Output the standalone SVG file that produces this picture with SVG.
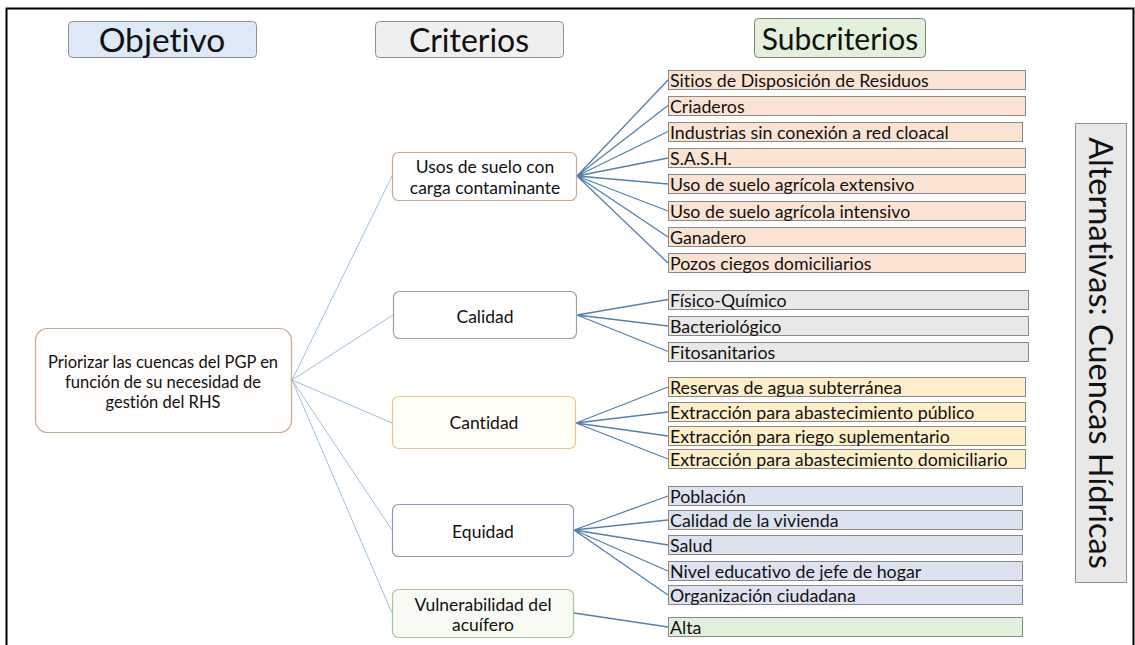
<svg xmlns="http://www.w3.org/2000/svg" width="1135" height="645" viewBox="0 0 1135 645">
<style>
text{font-family:Lato,"Open Sans","Liberation Sans",sans-serif;fill:#111;font-variant-ligatures:none;font-feature-settings:"liga" 0,"dlig" 0}
.hdr{font-size:30px;text-anchor:middle;dominant-baseline:central}
.crit{font-size:17.5px;text-anchor:middle;dominant-baseline:central}
.obj{font-size:16.5px}
.sub{font-size:17.8px;dominant-baseline:central}
.sb{stroke:#8a8a8a;stroke-width:1}
.c1{stroke:#9cc0e0;stroke-width:1;fill:none}
.c2{stroke:#5580aa;stroke-width:1.3;fill:none}
</style>
<rect width="1135" height="645" fill="#fff"/>
<path d="M6.5 645 V8.5 H1133.5 V645" fill="none" stroke="#000" stroke-width="2"/>
<g id="hdr-objetivo"><rect x="68.5" y="21.5" width="188" height="36" rx="4" fill="#dde9f6" stroke="#909090"/><text class="hdr" x="162" y="39" style="font-size:33.5px">Objetivo</text></g>
<g id="hdr-criterios"><rect x="375.5" y="21.5" width="188" height="36" rx="4" fill="#efefef" stroke="#909090"/><text class="hdr" x="469" y="39" style="font-size:32px">Criterios</text></g>
<g id="hdr-subcriterios"><rect x="754.5" y="18.5" width="171" height="39" rx="4" fill="#e3f0db" stroke="#808080"/><text class="hdr" x="840" y="38">Subcriterios</text></g>
<g id="connectors">
<path class="c1" d="M292 380 L392 176 M292 380 L393 315 M292 380 L392 423 M292 380 L392 530 M292 380 L392 613"/>
<path class="c2" d="M577 176 L668 80 M577 176 L668 105.5 M577 176 L668 131.5 M577 176 L668 158 M577 176 L668 184 M577 176 L668 211 M577 176 L668 237 M577 176 L668 263"/>
<path class="c2" d="M577 315 L668 299.5 M577 315 L668 326 M577 315 L668 351.5"/>
<path class="c2" d="M576 423 L668 387 M576 423 L668 412 M576 423 L668 436 M576 423 L668 459"/>
<path class="c2" d="M574 530 L668 496 M574 530 L668 520 M574 530 L668 545 M574 530 L668 571 M574 530 L668 595"/>
<path class="c2" d="M574 613 L668 627"/>
</g>
<g id="objetivo"><rect x="35.5" y="328.5" width="256" height="104" rx="12" fill="#fffdfb" stroke="#c9a890" stroke-width="1.2"/>
<text class="crit obj" x="163" y="362">Priorizar las cuencas del PGP en</text><text class="crit obj" x="163" y="382">función de su necesidad de</text><text class="crit obj" x="163" y="402">gestión del RHS</text></g>
<g id="usos"><rect x="392.5" y="152.5" width="184" height="48" rx="6" fill="#fff" stroke="#d0a890" stroke-width="1.2"/><text class="crit" x="485" y="166">Usos de suelo con</text><text class="crit" x="485" y="187">carga contaminante</text></g>
<g id="calidad"><rect x="393.5" y="291.5" width="183" height="47" rx="6" fill="#fff" stroke="#a0a0a0" stroke-width="1.2"/><text class="crit" x="485" y="316">Calidad</text></g>
<g id="cantidad"><rect x="392.5" y="396.5" width="183" height="52" rx="6" fill="#fffef6" stroke="#e5cc88" stroke-width="1.2"/><text class="crit" x="484" y="422">Cantidad</text></g>
<g id="equidad"><rect x="392.5" y="504.5" width="181" height="52" rx="6" fill="#fff" stroke="#8c9cc0" stroke-width="1.2"/><text class="crit" x="483" y="531">Equidad</text></g>
<g id="vulnerabilidad"><rect x="392.5" y="589.5" width="181" height="48" rx="6" fill="#f7fbf3" stroke="#a8c898" stroke-width="1.2"/><text class="crit" x="483" y="604">Vulnerabilidad del</text><text class="crit" x="483" y="624">acuífero</text></g>
<g id="s-usos" fill="#fbe3d4">
<g id="s1"><rect class="sb" x="668.5" y="70.5" width="357" height="19"/><text class="sub" x="670" y="80">Sitios de Disposición de Residuos</text></g>
<g id="s2"><rect class="sb" x="668.5" y="96.5" width="357" height="19"/><text class="sub" x="670" y="106">Criaderos</text></g>
<g id="s3"><rect class="sb" x="668.5" y="122.5" width="354" height="19"/><text class="sub" x="670" y="132">Industrias sin conexión a red cloacal</text></g>
<g id="s4"><rect class="sb" x="668.5" y="148.5" width="357" height="19"/><text class="sub" x="670" y="158">S.A.S.H.</text></g>
<g id="s5"><rect class="sb" x="668.5" y="174.5" width="357" height="19"/><text class="sub" x="670" y="184">Uso de suelo agrícola extensivo</text></g>
<g id="s6"><rect class="sb" x="668.5" y="201.5" width="357" height="19"/><text class="sub" x="670" y="211">Uso de suelo agrícola intensivo</text></g>
<g id="s7"><rect class="sb" x="668.5" y="227.5" width="357" height="19"/><text class="sub" x="670" y="237">Ganadero</text></g>
<g id="s8"><rect class="sb" x="668.5" y="253.5" width="357" height="19"/><text class="sub" x="670" y="263">Pozos ciegos domiciliarios</text></g>
</g>
<g id="s-calidad" fill="#e8e8e8">
<g id="s9"><rect class="sb" x="668.5" y="290.5" width="360" height="19"/><text class="sub" x="670" y="300">Físico-Químico</text></g>
<g id="s10"><rect class="sb" x="668.5" y="316.5" width="360" height="19"/><text class="sub" x="670" y="326">Bacteriológico</text></g>
<g id="s11"><rect class="sb" x="668.5" y="342.5" width="360" height="19"/><text class="sub" x="670" y="352">Fitosanitarios</text></g>
</g>
<g id="s-cantidad" fill="#fdefc9">
<g id="s12"><rect class="sb" x="668.5" y="377.5" width="357" height="19"/><text class="sub" x="670" y="387">Reservas de agua subterránea</text></g>
<g id="s13"><rect class="sb" x="668.5" y="402.5" width="357" height="19"/><text class="sub" x="670" y="412">Extracción para abastecimiento público</text></g>
<g id="s14"><rect class="sb" x="668.5" y="426.5" width="357" height="19"/><text class="sub" x="670" y="436">Extracción para riego suplementario</text></g>
<g id="s15"><rect class="sb" x="668.5" y="449.5" width="357" height="19"/><text class="sub" x="670" y="459">Extracción para abastecimiento domiciliario</text></g>
</g>
<g id="s-equidad" fill="#dde2f1">
<g id="s16"><rect class="sb" x="668.5" y="486.5" width="354" height="19"/><text class="sub" x="670" y="496">Población</text></g>
<g id="s17"><rect class="sb" x="668.5" y="510.5" width="354" height="19"/><text class="sub" x="670" y="520">Calidad de la vivienda</text></g>
<g id="s18"><rect class="sb" x="668.5" y="535.5" width="354" height="19"/><text class="sub" x="670" y="545">Salud</text></g>
<g id="s19"><rect class="sb" x="668.5" y="561.5" width="354" height="19"/><text class="sub" x="670" y="571">Nivel educativo de jefe de hogar</text></g>
<g id="s20"><rect class="sb" x="668.5" y="585.5" width="354" height="19"/><text class="sub" x="670" y="595">Organización ciudadana</text></g>
</g>
<g id="s-vuln" fill="#e3f0db">
<g id="s21"><rect class="sb" x="668.5" y="617.5" width="354" height="19"/><text class="sub" x="670" y="627">Alta</text></g>
</g>
<g id="alternativas"><rect x="1075.5" y="123.5" width="51" height="459" fill="#e8e8e8" stroke="#909090"/><text class="hdr" transform="translate(1101 353) rotate(90)" x="0" y="0" style="font-size:32.5px">Alternativas: Cuencas Hídricas</text></g>
</svg>
